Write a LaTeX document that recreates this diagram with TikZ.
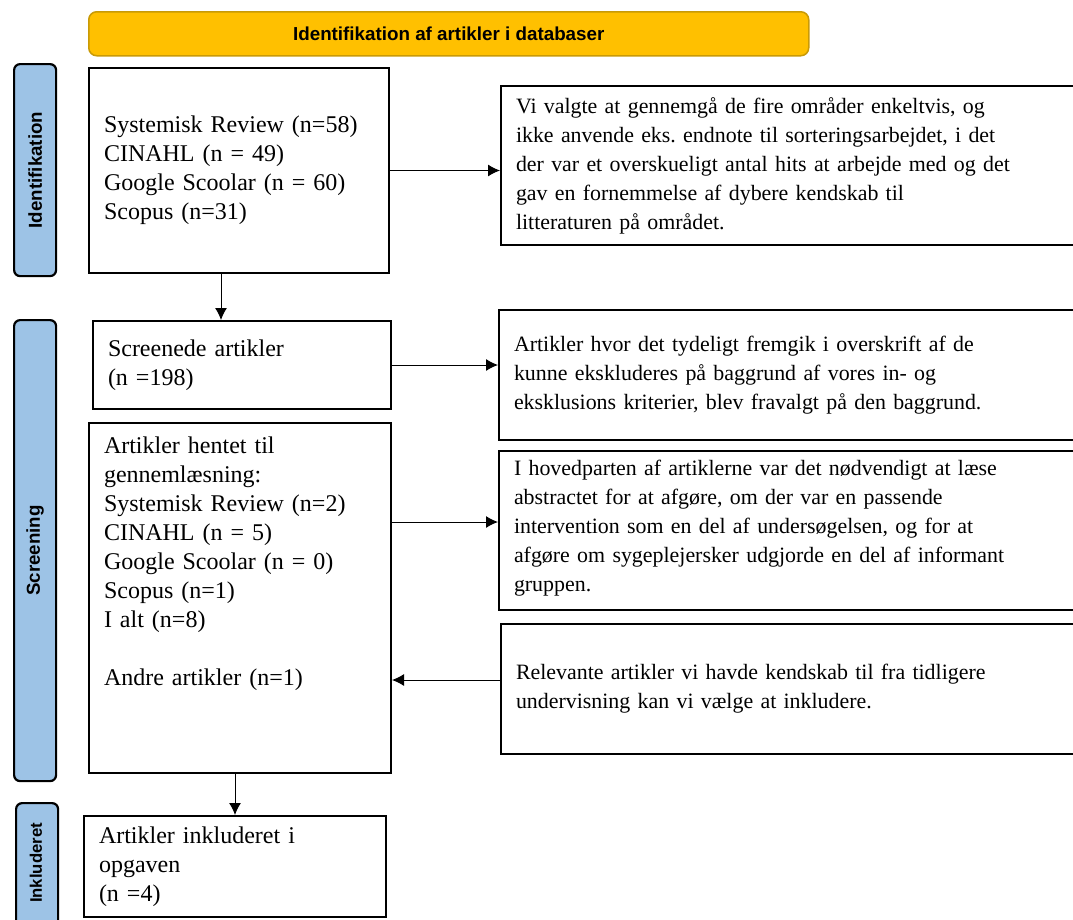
\documentclass[tikz,border=0pt]{standalone}
\usepackage{fontspec}
\setmainfont{Liberation Serif}
\newfontfamily\headfont{Liberation Sans}
\usetikzlibrary{arrows.meta}
\definecolor{headgold}{HTML}{FFC000}
\definecolor{headedge}{HTML}{C99A06}
\definecolor{sideblue}{HTML}{9DC3E6}
\frenchspacing
\tikzset{
  box/.style={draw, line width=2pt, anchor=north west, align=left, inner xsep=15pt, inner ysep=0pt,
    font=\fontsize{24}{29}\selectfont},
  note/.style={box, font=\fontsize{21.9}{29}\selectfont},
  side/.style={draw, line width=2.2pt, rounded corners=6pt, fill=sideblue, anchor=north west,
    inner sep=0pt, minimum width=42pt},
  sidetext/.style={rotate=90, font=\headfont\bfseries\fontsize{18.7}{22}\selectfont},
  arr/.style={-{Latex[length=12pt,width=12pt]}, line width=1pt}
}
\begin{document}
\begin{tikzpicture}[x=1pt,y=-1pt]
        \useasboundingbox (0,0) rectangle (1073,919);
        \clip (0,0) rectangle (1073,919);

        \node[draw=headedge, fill=headgold, line width=1.5pt, rounded corners=8pt, anchor=north west,
          minimum width=720pt, minimum height=44pt, font=\headfont\bfseries\fontsize{18.8}{22}\selectfont]
          (head) at (88,11) {Identifikation af artikler i databaser};

        \node[side, minimum height=212pt] (sideid) at (13,63) {};
        \node[sidetext] (lblid) at (sideid.center) {Identifikation};
        \node[side, minimum height=461pt] (sidescr) at (13,319) {};
        \node[sidetext] (lblscr) at (sidescr.center) {Screening};
        \node[side, minimum height=140pt] (sideinc) at (15,802) {};
        \node[sidetext, font=\headfont\bfseries\fontsize{16.7}{19}\selectfont] (lblinc) at (36,863) {Inkluderet};

        \node[box, text width=270pt, minimum height=205pt] (base) at (88,67)
          {Systemisk Review (n=58)\\CINAHL (n = 49)\\Google Scoolar (n = 60)\\Scopus (n=31)};
        \node[box, text width=268pt, minimum height=88pt] (screen) at (92,320)
          {Screenede artikler\\(n =198)};
        \node[box, text width=272pt, minimum height=350pt] (fetch) at (88,422)
          {\parbox[t][322pt][t]{272pt}{\raggedright Artikler hentet til\\gennemlæsning:\\Systemisk Review (n=2)\\
           CINAHL (n = 5)\\Google Scoolar (n = 0)\\Scopus (n=1)\\I alt (n=8)\\[29pt]Andre artikler (n=1)}};
        \node[box, text width=272pt, minimum height=101pt] (incl) at (83,815)
          {Artikler inkluderet i\\opgaven\\(n =4)};

        \node[note, text width=570pt, minimum height=159pt] (why) at (500,85)
          {Vi valgte at gennemgå de fire områder enkeltvis, og\\ikke anvende eks. endnote til sorteringsarbejdet, i det\\
           der var et overskueligt antal hits at arbejde med og det\\gav en fornemmelse af dybere kendskab til\\
           litteraturen på området.};
        \node[note, text width=570pt, minimum height=130pt] (title) at (498,309)
          {Artikler hvor det tydeligt fremgik i overskrift af de\\kunne ekskluderes på baggrund af vores in- og\\
           eksklusions kriterier, blev fravalgt på den baggrund.};
        \node[note, text width=570pt, minimum height=159pt] (abstr) at (498,450)
          {\parbox[t][140pt][t]{570pt}{\raggedright I hovedparten af artiklerne var det nødvendigt at læse\\abstractet for at afgøre, om der var en passende\\
           intervention som en del af undersøgelsen, og for at\\afgøre om sygeplejersker udgjorde en del af informant\\gruppen.}};
        \node[note, text width=570pt, minimum height=130pt] (prior) at (500,623)
          {Relevante artikler vi havde kendskab til fra tidligere\\undervisning kan vi vælge at inkludere.};

        \coordinate (downx) at (221,0);
        \coordinate (outy) at (0,522);
        \coordinate (iny) at (0,680);
        \draw[arr] (base.east) -- (base.east -| why.west);
        \draw[arr] (base.south -| downx) -- (screen.north -| downx);
        \draw[arr] (screen.east) -- (screen.east -| title.west);
        \draw[arr] (fetch.east |- outy) -- (abstr.west |- outy);
        \draw[arr] (prior.west |- iny) -- (fetch.east |- iny);
        \draw[arr] (fetch.south -| incl.north) -- (incl.north);
    \end{tikzpicture}
\end{document}
